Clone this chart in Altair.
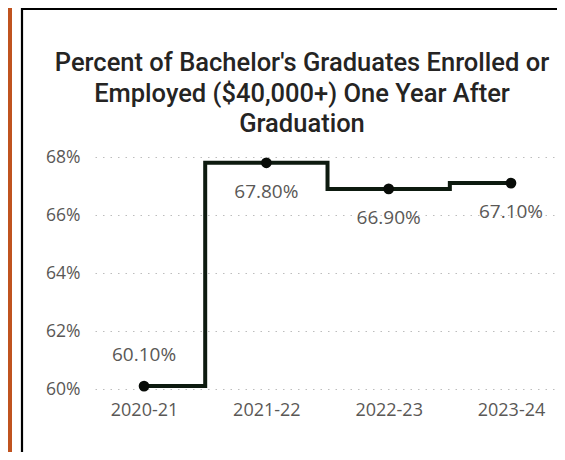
import altair as alt
import pandas as pd

YEARS = ["2020-21", "2021-22", "2022-23", "2023-24"]
VALUES = [60.1, 67.8, 66.9, 67.1]
LABELS = ["60.10%", "67.80%", "66.90%", "67.10%"]
Y_TICKS = [60, 62, 64, 66, 68]
TITLE_LINES = [
    "Percent of Bachelor's Graduates Enrolled or",
    "Employed ($40,000+) One Year After",
    "Graduation",
]

df = pd.DataFrame({"year": YEARS, "value": VALUES, "label": LABELS})
one = pd.DataFrame({"a": [0]})

AXIS_FONT = "Open Sans"
GRAY = "#5a5856"

x_enc = alt.X(
    "year:N",
    sort=YEARS,
    scale=alt.Scale(type="point", padding=0.3885, align=0.516),
    axis=alt.Axis(
        title=None, domain=False, ticks=False, grid=False, labelAngle=0,
        labelFont=AXIS_FONT, labelFontSize=18, labelColor=GRAY, labelPadding=12,
    ),
)
y_enc = alt.Y(
    "value:Q",
    scale=alt.Scale(domain=[60, 68], nice=False, zero=False),
    axis=alt.Axis(
        title=None, domain=False, ticks=False, values=Y_TICKS,
        labelExpr="datum.value + '%'",
        labelFont=AXIS_FONT, labelFontSize=17.5, labelColor=GRAY, labelPadding=15,
        grid=True, gridColor="#bdbdbd", gridDash=[1.5, 6], gridWidth=1.2,
    ),
)

base = alt.Chart(df)

line = base.mark_line(interpolate="step", color="#0d1a0f", strokeWidth=4).encode(x=x_enc, y=y_enc)
points = base.mark_circle(size=115, color="#080c08", opacity=1).encode(x="year:N", y="value:Q")

labels_above = base.transform_filter(alt.datum.year == YEARS[0]).mark_text(
    font=AXIS_FONT, fontSize=19, color=GRAY, dy=-31
).encode(x="year:N", y="value:Q", text="label:N")
labels_below = base.transform_filter(alt.datum.year != YEARS[0]).mark_text(
    font=AXIS_FONT, fontSize=19, color=GRAY, dy=29
).encode(x="year:N", y="value:Q", text="label:N")

title = alt.Chart(one).mark_text(
    font="Roboto", fontSize=25.5, fontWeight=500, color="#252423",
    align="center", baseline="alphabetic", lineHeight=30.5,
).encode(x=alt.value(207), y=alt.value(-86), text=alt.value(TITLE_LINES))

frame_left = alt.Chart(one).mark_rule(color="#000000", strokeWidth=2.2).encode(
    x=alt.value(-73), y=alt.value(-149), y2=alt.value(300)
)
frame_top = alt.Chart(one).mark_rule(color="#000000", strokeWidth=2.2).encode(
    x=alt.value(-74), x2=alt.value(480), y=alt.value(-148)
)
orange_bar = alt.Chart(one).mark_rule(color="#c0531f", strokeWidth=4).encode(
    x=alt.value(-85), y=alt.value(-149), y2=alt.value(300)
)

chart = alt.layer(
    orange_bar, frame_left, frame_top, title, line, points, labels_above, labels_below
).properties(
    width=462,
    height=232,
    autosize=alt.AutoSizeParams(type="none"),
    padding={"left": 87, "top": 149, "right": 0, "bottom": 63},
    background="white",
).configure_view(strokeWidth=0)

chart.save("out.html", embed_options={"renderer": "svg", "actions": False})
